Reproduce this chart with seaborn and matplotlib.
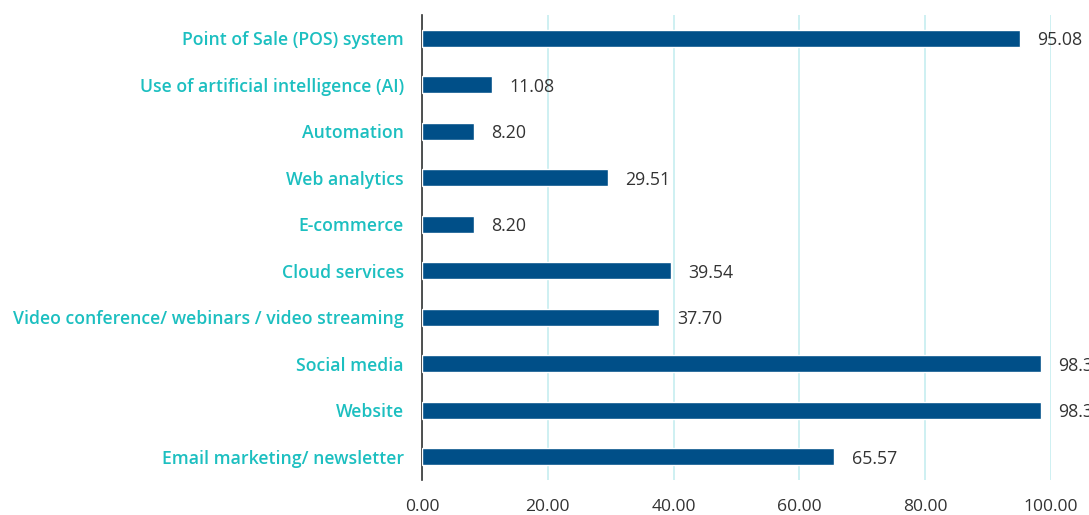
import matplotlib
matplotlib.use("Agg")
import matplotlib.pyplot as plt
import seaborn as sns
import pandas as pd

# Chart data
categories = [
    "Point of Sale (POS) system",
    "Use of artificial intelligence (AI)",
    "Automation",
    "Web analytics",
    "E-commerce",
    "Cloud services",
    "Video conference/ webinars / video streaming",
    "Social media",
    "Website",
    "Email marketing/ newsletter",
]
values = [95.08, 11.08, 8.20, 29.51, 8.20, 39.54, 37.70, 98.36, 98.36, 65.57]
x_ticks = [0, 20, 40, 60, 80, 100]

df = pd.DataFrame({"category": categories, "value": values})

sns.set_style("white")
plt.rcParams["font.family"] = ["Open Sans", "DejaVu Sans"]

fig = plt.figure(figsize=(10.89, 5.15), dpi=100)
ax = fig.add_axes([0.3875, 0.068, 0.5775, 0.903])

sns.barplot(data=df, x="value", y="category", color="#004f88", width=0.37,
            saturation=1, ax=ax, zorder=3)

ax.set_xlim(0, 100)
ax.set_xticks(x_ticks)
ax.set_xticklabels([f"{t:.2f}" for t in x_ticks], fontsize=12.6, color="#333333")
ax.set_xlabel("")
ax.set_ylabel("")
ax.tick_params(axis="both", length=0)
ax.tick_params(axis="x", pad=14)
ax.tick_params(axis="y", pad=13)
for lbl in ax.get_yticklabels():
    lbl.set_color("#1cbfc0")
    lbl.set_fontsize(12.7)
    lbl.set_fontweight("semibold")

ax.grid(axis="x", color="#c6eef0", linewidth=1.2, zorder=0)
for side in ["top", "right", "bottom"]:
    ax.spines[side].set_visible(False)
ax.spines["left"].set_color("#333333")
ax.spines["left"].set_linewidth(1.2)

# Value labels (the last two run past the right edge, as in the source)
for i, v in enumerate(values):
    ax.text(v + 2.8, i, f"{v:.2f}", va="center_baseline", ha="left", fontsize=12.8,
            color="#333333", clip_on=False)

fig.savefig("out.png", dpi=100)
